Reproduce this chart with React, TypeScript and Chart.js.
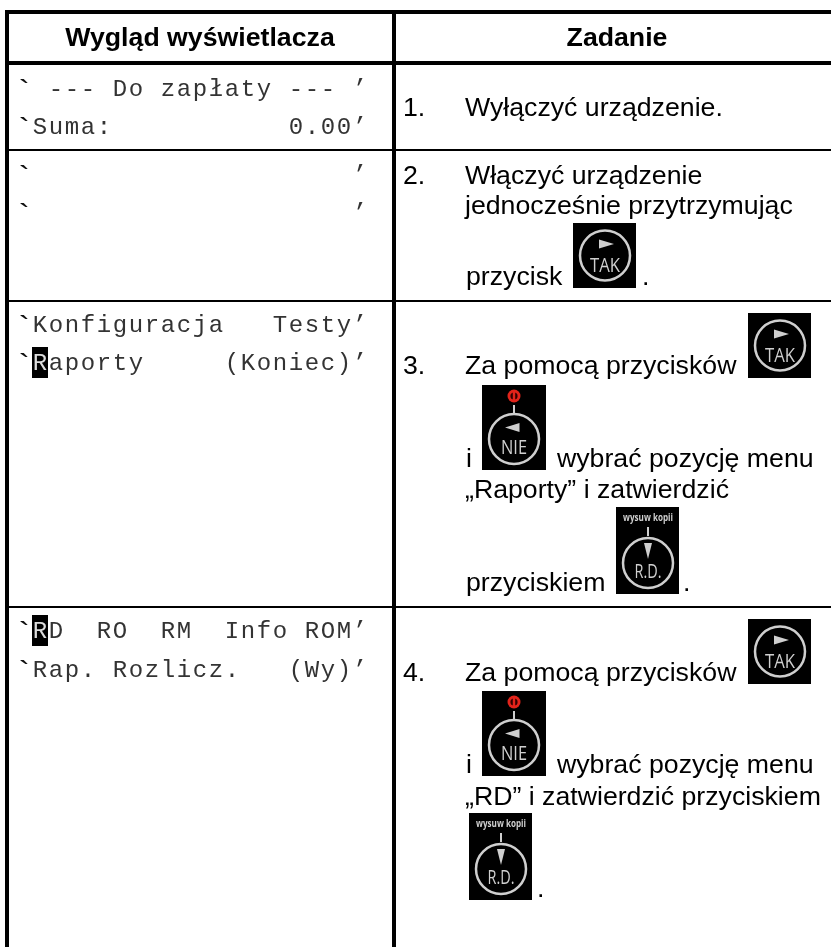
import React, { useEffect, useRef } from "react";
import { Chart, registerables } from "chart.js";

Chart.register(...registerables);

// ---- content ----
const headers = ["Wygląd wyświetlacza", "Zadanie"];
const displayLines = [
  "` --- Do zapłaty --- ’",
  "`Suma:           0.00’",
  "`                    ’",
  "`                    ’",
  "`Konfiguracja   Testy’",
  "`Raporty     (Koniec)’",
  "`RD  RO  RM  Info ROM’",
  "`Rap. Rozlicz.   (Wy)’",
];
const stepNumbers = ["1.", "2.", "3.", "4."];
const stepTexts = [
  "Wyłączyć urządzenie.",
  "Włączyć urządzenie",
  "jednocześnie przytrzymując",
  "przycisk",
  ".",
  "Za pomocą przycisków",
  "i",
  "wybrać pozycję menu",
  "„Raporty” i zatwierdzić",
  "przyciskiem",
  ".",
  "Za pomocą przycisków",
  "i",
  "wybrać pozycję menu",
  "„RD” i zatwierdzić przyciskiem",
  ".",
];
const iconKinds = ["TAK", "TAK", "NIE", "RD", "TAK", "NIE", "RD"];

// ---- table layout, in units of the two linear axes ----
const horizontalRules = [12, 63, 150, 301, 607];
const horizontalWidths = [4, 4, 2, 2, 2];
const verticalRules = [7, 394];
const displayBaselines = [96, 134, 182, 220, 332, 370, 638, 677];
const highlightRows = [5, 6];
const stepNumberBaselines = [116, 184, 374, 681];
const stepX = [465, 465, 465, 466, 642, 465, 466, 557, 465, 466, 683, 465, 466, 557, 465, 537];
const stepY = [116, 184, 214, 285, 285, 374, 467, 467, 498, 591, 591, 681, 773, 773, 805, 897];
const iconX = [573, 748, 482, 616, 748, 482, 469];
const iconY = [223, 313, 385, 507, 619, 691, 813];

const SANS = '"Liberation Sans", Arial, sans-serif';
const MONO = '"Liberation Mono", "Courier New", monospace';
const GREY = "#cfcfcf";

function tri(ctx: CanvasRenderingContext2D, pts: number[][]) {
  ctx.beginPath();
  ctx.moveTo(pts[0][0], pts[0][1]);
  ctx.lineTo(pts[1][0], pts[1][1]);
  ctx.lineTo(pts[2][0], pts[2][1]);
  ctx.closePath();
  ctx.fill();
}

function drawIcon(ctx: CanvasRenderingContext2D, kind: string, x: number, y: number) {
  const w = kind === "NIE" ? 64 : 63;
  const h = kind === "TAK" ? 65 : kind === "NIE" ? 85 : 87;
  const cx = x + 32;
  const cy = kind === "TAK" ? y + 32.5 : kind === "NIE" ? y + 54 : y + 56;
  ctx.fillStyle = "#000";
  ctx.fillRect(x, y, w, h);
  ctx.strokeStyle = GREY;
  ctx.lineWidth = 2.5;
  ctx.beginPath();
  ctx.arc(cx, cy, 25, 0, Math.PI * 2);
  ctx.stroke();
  ctx.fillStyle = GREY;
  ctx.textAlign = "center";
  ctx.textBaseline = "alphabetic";
  ctx.font = '20.5px "Open Sans", sans-serif';
  if (kind === "TAK") {
    tri(ctx, [[cx - 6, cy - 16], [cx + 9, cy - 11.5], [cx - 6, cy - 7]]);
    ctx.fillText("TAK", cx, cy + 16, 30);
  } else if (kind === "NIE") {
    tri(ctx, [[cx + 5.5, cy - 16], [cx - 9, cy - 11.5], [cx + 5.5, cy - 7]]);
    ctx.fillText("NIE", cx, cy + 15, 26);
  } else {
    tri(ctx, [[cx - 4, cy - 20], [cx + 4, cy - 20], [cx, cy - 4]]);
    ctx.fillText("R.D.", cx, cy + 15, 27);
    ctx.font = 'bold 11px "Open Sans", sans-serif';
    ctx.fillText("wysuw kopii", cx, y + 14, 50);
  }
  if (kind !== "TAK") {
    ctx.lineWidth = 2;
    ctx.beginPath();
    ctx.moveTo(cx, y + 20);
    ctx.lineTo(cx, y + 29);
    ctx.stroke();
  }
  if (kind === "NIE") {
    ctx.fillStyle = "#e2231a";
    ctx.beginPath();
    ctx.arc(cx, y + 11, 6.5, 0, Math.PI * 2);
    ctx.fill();
    ctx.fillStyle = "#300";
    ctx.beginPath();
    ctx.arc(cx, y + 11, 3.6, 0, Math.PI * 2);
    ctx.fill();
    ctx.strokeStyle = "#e2231a";
    ctx.lineWidth = 2.4;
    ctx.beginPath();
    ctx.moveTo(cx, y + 6);
    ctx.lineTo(cx, y + 16);
    ctx.stroke();
  }
}

const tablePlugin = {
  id: "tableText",
  afterDatasetsDraw(chart: any) {
    const { ctx, scales } = chart;
    const X = (v: number) => scales.x.getPixelForValue(v);
    const Y = (v: number) => scales.y.getPixelForValue(v);
    ctx.save();
    ctx.textBaseline = "alphabetic";
    ctx.fillStyle = "#000";

    ctx.font = `bold 26.7px ${SANS}`;
    ctx.textAlign = "center";
    ctx.fillText(headers[0], X(200), Y(46));
    ctx.fillText(headers[1], X(617), Y(46));

    const cell = 16;
    const firstCol = 16;
    displayLines.forEach((line, row) => {
      const chars = Array.from(line);
      chars.forEach((ch, col) => {
        const hl = highlightRows.includes(row) && col === 1;
        if (hl) {
          ctx.fillStyle = "#000";
          ctx.fillRect(X(firstCol + cell), Y(displayBaselines[row] - 23), cell, 31);
        }
        const tick = ch === "`";
        ctx.font = `${tick ? 34 : 24}px ${MONO}`;
        ctx.textAlign = "center";
        ctx.fillStyle = hl ? "#ddd" : tick ? "#111" : "#333";
        if (ch !== " ") {
          ctx.fillText(ch, X(firstCol + cell * col + cell / 2), Y(displayBaselines[row] + (tick ? 7 : 0)));
        }
      });
    });

    ctx.fillStyle = "#000";
    ctx.font = `26.7px ${SANS}`;
    ctx.textAlign = "left";
    stepNumbers.forEach((n, i) => ctx.fillText(n, X(403), Y(stepNumberBaselines[i])));
    stepTexts.forEach((t, i) => {
      ctx.fillStyle = "#000";
      ctx.font = `26.7px ${SANS}`;
      ctx.textAlign = "left";
      ctx.fillText(t, X(stepX[i]), Y(stepY[i]));
    });

    iconKinds.forEach((k, i) => drawIcon(ctx, k, X(iconX[i]), Y(iconY[i])));
    ctx.restore();
  },
};

export default function App() {
  const ref = useRef<HTMLCanvasElement | null>(null);
  useEffect(() => {
    document.body.style.margin = "0";
    const rules = [
      ...horizontalRules.map((y, i) => ({
        data: [{ x: 5, y }, { x: 831, y }],
        borderWidth: horizontalWidths[i],
      })),
      ...verticalRules.map((x) => ({
        data: [{ x, y: 10 }, { x, y: 947 }],
        borderWidth: 4,
      })),
    ];
    const chart = new Chart(ref.current as HTMLCanvasElement, {
      type: "line",
      data: {
        datasets: rules.map((r) => ({
          ...r,
          borderColor: "#000",
          pointRadius: 0,
          fill: false,
          tension: 0,
        })),
      },
      options: {
        animation: false,
        responsive: false,
        events: [],
        layout: { padding: 0 },
        plugins: {
          legend: { display: false },
          title: { display: false },
          tooltip: { enabled: false },
        },
        scales: {
          x: { type: "linear", display: false, min: 0, max: 831 },
          y: { type: "linear", display: false, min: 0, max: 947, reverse: true },
        },
      },
      plugins: [tablePlugin],
    } as any);
    return () => chart.destroy();
  }, []);
  return (
    <div style={{ width: 831, height: 947, background: "#fff", overflow: "hidden" }}>
      <canvas ref={ref} width={831} height={947} style={{ display: "block" }} />
    </div>
  );
}
